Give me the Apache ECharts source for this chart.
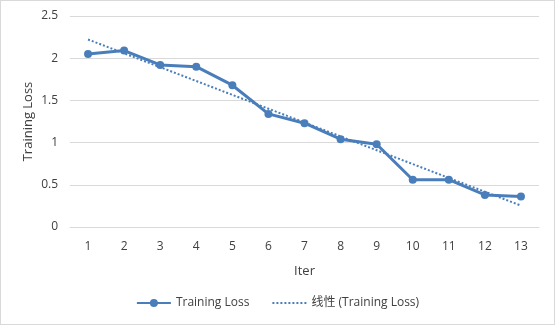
<!DOCTYPE html>
<html>
<head>
<meta charset="utf-8">
<script src="https://cdn.jsdelivr.net/npm/echarts@6/dist/echarts.min.js"></script>
<style>
  html, body { margin: 0; padding: 0; background: #fff; }
  #chart { width: 555px; height: 325px; box-sizing: border-box; border: 1px solid #d9d9d9; }
</style>
</head>
<body>
<div id="chart"></div>
<script>
// iteration labels on x axis
var iters = ['1', '2', '3', '4', '5', '6', '7', '8', '9', '10', '11', '12', '13'];
// loss per iteration
var lossValues = [2.05, 2.09, 1.92, 1.90, 1.68, 1.34, 1.23, 1.04, 0.98, 0.56, 0.56, 0.38, 0.36];

// linear trendline (least squares), like excel's "线性" trend
function linearTrend(vals) {
  var n = vals.length, sx = 0, sy = 0, sxy = 0, sxx = 0;
  for (var i = 0; i < n; i++) {
    var x = i + 1;
    sx += x; sy += vals[i]; sxy += x * vals[i]; sxx += x * x;
  }
  var slope = (n * sxy - sx * sy) / (n * sxx - sx * sx);
  var icpt = (sy - slope * sx) / n;
  var out = [];
  for (var j = 0; j < n; j++) out.push(+(icpt + slope * (j + 1)).toFixed(4));
  return out;
}
var trendValues = linearTrend(lossValues);

var chart = echarts.init(document.getElementById('chart'));
var txt = '#404040';
var fnt = '"Open Sans", "Noto Sans", "Noto Sans CJK SC", sans-serif';
var blue = '#4a7ebb';

var option = {
  animation: false,
  textStyle: { fontFamily: fnt },
  grid: { left: 69, right: 15, top: 15, bottom: 97 },
  legend: {
    bottom: 10,
    left: 'center',
    itemWidth: 34,
    itemHeight: 10,
    itemGap: 22,
    textStyle: { color: txt, fontSize: 12, fontFamily: fnt },
    data: [
      { name: 'Training Loss' },
      // dotted line only, hide the marker excel doesn't show
      { name: '线性 (Training Loss)', itemStyle: { opacity: 0 } }
    ]
  },
  xAxis: {
    type: 'category',
    data: iters,
    boundaryGap: true,
    name: 'Iter',
    nameLocation: 'middle',
    nameGap: 38,
    nameMoveOverlap: false,
    nameTextStyle: { color: txt, fontSize: 13 },
    axisLine: { lineStyle: { color: '#d9d9d9' } },
    axisTick: { show: false },
    axisLabel: { color: txt, fontSize: 12, margin: 14 }
  },
  yAxis: {
    type: 'value',
    min: 0,
    max: 2.5,
    interval: 0.5,
    name: 'Training Loss',
    nameLocation: 'middle',
    nameGap: 35,
    nameMoveOverlap: false,
    nameTextStyle: { color: txt, fontSize: 13 },
    axisLine: { show: false },
    axisTick: { show: false },
    axisLabel: { color: txt, fontSize: 12, margin: 12 },
    splitLine: { lineStyle: { color: '#d9d9d9' } }
  },
  series: [
    {
      name: 'Training Loss',
      type: 'line',
      data: lossValues,
      symbol: 'circle',
      symbolSize: 8,
      itemStyle: { color: blue },
      lineStyle: { color: blue, width: 3 }
    },
    {
      name: '线性 (Training Loss)',
      type: 'line',
      data: trendValues,
      symbol: 'none',
      itemStyle: { color: blue },
      lineStyle: { color: blue, width: 2, type: [2, 2] }
    }
  ]
};
chart.setOption(option);
</script>
</body>
</html>
